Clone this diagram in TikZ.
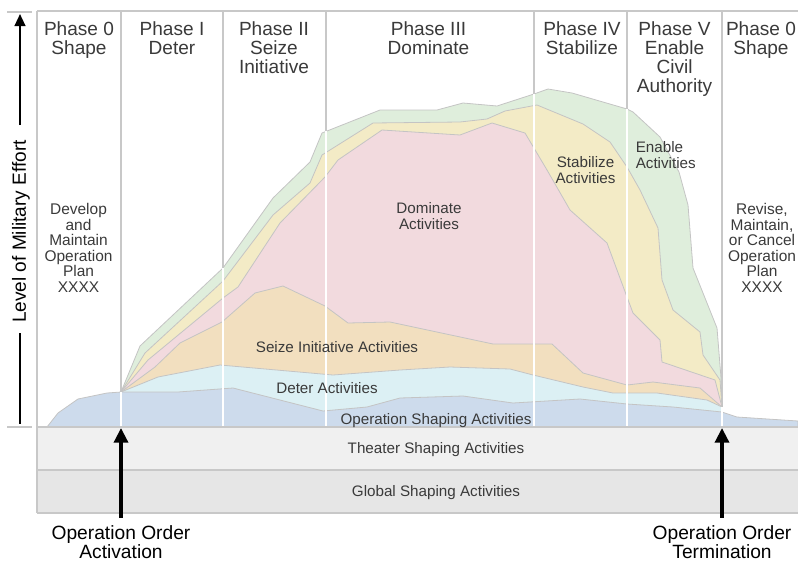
\documentclass[tikz,border=0pt]{standalone}
\usepackage{fontspec}
\setmainfont{Liberation Sans}
\usetikzlibrary{arrows.meta}

\definecolor{enablec}{HTML}{DFEEDC}
\definecolor{stabc}{HTML}{F3EBC6}
\definecolor{domc}{HTML}{F2DADE}
\definecolor{seizec}{HTML}{F2DFBF}
\definecolor{deterc}{HTML}{DCF0F4}
\definecolor{opc}{HTML}{CDDBEC}
\definecolor{theaterc}{HTML}{F0F0F0}
\definecolor{globalc}{HTML}{E6E6E6}
\definecolor{edgec}{HTML}{C4C4C4}
\definecolor{divc}{HTML}{C8C8C8}
\definecolor{txtc}{HTML}{3A3A3A}

\begin{document}
\begin{tikzpicture}[x=0.75pt,y=-0.75pt,
  layer/.style={draw=edgec,line width=0.6pt},
  divl/.style={draw=divc,line width=1.5pt},
  hdr/.style={anchor=north,align=center,inner sep=0pt,text=txtc,font=\fontsize{14.3}{14.3}\selectfont},
  plan/.style={anchor=north,align=center,inner sep=0pt,text=txtc,font=\fontsize{11.6}{11.6}\selectfont},
  actv/.style={anchor=north,align=center,inner sep=0pt,text=txtc,font=\fontsize{11.4}{12}\selectfont},
  ordr/.style={anchor=north,align=center,inner sep=0pt,font=\fontsize{14.4}{13.8}\selectfont},
  bigarr/.style={line width=2.5pt,-{Triangle[length=11pt,width=10.5pt]}}]
\useasboundingbox (0,0) rectangle (798,561);

% frame and phase dividers
\draw[divl] (37,11) -- (798,11);
\draw[divl] (7,12) -- (32,12);
\draw[divl] (7,427) -- (32,427);
\foreach \x/\y in {121/392,223/268,326/131,534/94,627/109,722/407}
  \draw[divl] (\x,11) -- (\x,\y);

\coordinate (A) at (121,392);
\coordinate (T) at (722,407);

% stacked activity areas
\filldraw[layer,fill=enablec] (A) -- (140,346) -- (223,268) -- (273,198) -- (310,162) -- (322,133) -- (380,110) -- (437,110) -- (463,103) -- (497,106) -- (534,94) -- (548,89) -- (572,93) -- (627,109) -- (633,112) -- (660,137) -- (679,172) -- (688,205) -- (693,268) -- (717,328) -- (721,378) -- (T) -- (722,427) -- (121,427) -- cycle;
\filldraw[layer,fill=stabc] (A) -- (145,353) -- (223,281) -- (273,215) -- (310,183) -- (322,155) -- (373,123) -- (460,122) -- (487,119) -- (505,111) -- (537,105) -- (583,124) -- (610,142) -- (627,167) -- (640,190) -- (658,228) -- (662,280) -- (673,310) -- (700,332) -- (703,355) -- (720,380) -- (T) -- (722,427) -- (121,427) -- cycle;
\filldraw[layer,fill=domc] (A) -- (148,360) -- (223,298) -- (238,287) -- (280,223) -- (325,177) -- (338,160) -- (382,130) -- (460,135) -- (492,123) -- (525,133) -- (547,170) -- (570,210) -- (607,243) -- (627,297) -- (633,313) -- (660,340) -- (662,362) -- (715,380) -- (T) -- (722,427) -- (121,427) -- cycle;
\filldraw[layer,fill=seizec] (A) -- (155,367) -- (180,343) -- (222,322) -- (255,293) -- (283,286) -- (325,306) -- (348,323) -- (390,322) -- (493,344) -- (552,344) -- (583,373) -- (627,385) -- (653,382) -- (700,388) -- (T) -- (722,427) -- (121,427) -- cycle;
\filldraw[layer,fill=deterc] (A) -- (158,377) -- (220,365) -- (333,375) -- (400,370) -- (450,367) -- (510,369) -- (533,375) -- (583,387) -- (613,393) -- (657,393) -- (707,400) -- (T) -- (722,427) -- (121,427) -- cycle;
\filldraw[layer,fill=opc] (47,427) -- (58,413) -- (78,399) -- (107,393) -- (A) -- (178,392) -- (233,388) -- (323,411) -- (367,407) -- (400,398) -- (463,396) -- (513,403) -- (580,399) -- (627,404) -- (673,407) -- (722,412) -- (737,417) -- (798,421) -- (798,427) -- cycle;

\foreach \x/\y in {121/392,223/268,326/131,534/94,627/109,722/407}
  \draw[white,line width=1.5pt] (\x,\y) -- (\x,427);

% shaping bands
\fill[theaterc] (37,427) rectangle (798,470);
\fill[globalc] (37,470) rectangle (798,513);
\draw[divl] (37,427) -- (798,427);
\draw[divl] (37,470) -- (798,470);
\draw[divl] (37,513) -- (798,513);
\draw[divl] (37,11) -- (37,513);

% phase headers
\node[hdr] (p0)  at (79,21.5)    {Phase 0\\Shape};
\node[hdr] (p1)  at (172,21.5)   {Phase I\\Deter};
\node[hdr] (p2)  at (274,21.5)   {Phase II\\Seize\\Initiative};
\node[hdr] (p3)  at (428.5,21.5) {Phase III\\Dominate};
\node[hdr] (p4)  at (582,21.5)   {Phase IV\\Stabilize};
\node[hdr] (p5)  at (674.5,21.5) {Phase V\\Enable\\Civil\\Authority};
\node[hdr] (p0b) at (761,21.5)   {Phase 0\\Shape};

% plans
\node[plan] (dev) at (78.5,203.5) {Develop\\and\\Maintain\\Operation\\Plan\\XXXX};
\node[plan] (rev) at (762,203.5)  {Revise,\\Maintain,\\or Cancel\\Operation\\Plan\\XXXX};

% activity labels
\node[actv] (dom)   at (429,202.5) {Dominate\\Activities};
\node[actv] (stab)  at (585.5,156.5) {Stabilize\\Activities};
\node[actv,anchor=north west,align=left] (enab) at (635.5,141.5) {Enable\\Activities};
\node[actv] (seize) at (337,341.5) {Seize Initiative Activities};
\node[actv] (det)   at (327,382.3) {Deter Activities};
\node[actv] (ops)   at (436,413.3) {Operation Shaping Activities};
\node[actv] (thr)   at (436,442.7) {Theater Shaping Activities};
\node[actv] (glb)   at (436,485)   {Global Shaping Activities};

% axis
\node[inner sep=0pt,rotate=90,font=\fontsize{14.3}{14.3}\selectfont] (lvl) at (21,231.5) {Level of Military Effort};
\coordinate (ytop) at (20,14);
\coordinate (ybot) at (20,424);
\draw[line width=1.6pt,-{Triangle[length=9pt,width=8pt]}] (20,125) -- (ytop);
\draw[line width=1.6pt] (20,333) -- (ybot);

% operation order arrows
\coordinate (act) at (121,428);
\coordinate (trm) at (722,428);
\node[ordr] (actl) at (121,525.5) {Operation Order\\Activation};
\node[ordr] (trml) at (722,525.5) {Operation Order\\Termination};
\draw[bigarr,shorten <=6pt] (actl.north) -- (act);
\draw[bigarr,shorten <=6pt] (trml.north) -- (trm);
\end{tikzpicture}
\end{document}
